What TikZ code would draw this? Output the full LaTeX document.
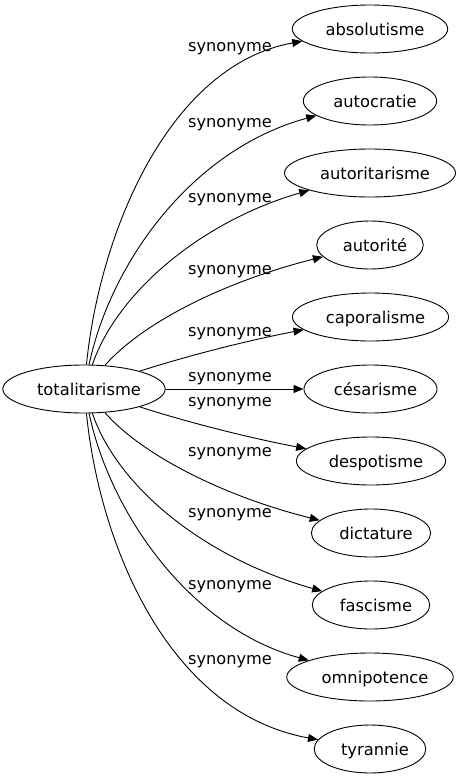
\documentclass[tikz,border=0pt]{standalone}
\usepackage{fontspec}
\setmainfont{DejaVu Sans}
\usetikzlibrary{shapes.geometric,arrows.meta}
\tikzset{
  ord/.style={ellipse,draw,line width=0.9pt,inner xsep=5.5pt,minimum height=48pt,
    text height=13pt,text depth=1pt,font=\fontsize{16.3}{19}\selectfont,
    execute at begin node={\kern5pt},execute at end node={\kern-5pt}},
  kant/.style={line width=0.9pt,-{Triangle[length=10pt,width=8pt]}},
  etiket/.style={anchor=base,inner sep=0pt,font=\fontsize{16.2}{19}\selectfont},
}
\begin{document}
\begin{tikzpicture}[x=1pt,y=-1pt]
  %ramme
  	\useasboundingbox (0,0) rectangle (459,779);
  %knuder
  	\node[ord] (tot) at (84,389) {totalitarisme};
  	\node[ord] (abs) at (370,29) {absolutisme};
  	\node[ord] (auc) at (370,101) {autocratie};
  	\node[ord] (aut) at (370,173) {autoritarisme};
  	\node[ord] (ato) at (370,245) {autorité};
  	\node[ord] (cap) at (370.5,317) {caporalisme};
  	\node[ord] (ces) at (370.5,389) {césarisme};
  	\node[ord] (des) at (371,461) {despotisme};
  	\node[ord] (dic) at (371,533) {dictature};
  	\node[ord] (fas) at (371,605) {fascisme};
  	\node[ord] (omn) at (370,677) {omnipotence};
  	\node[ord] (tyr) at (370,749) {tyrannie};

  %kanter opad
  	\draw[kant] (tot) .. controls (100,230) and (170,65) .. (abs);
  	\draw[kant] (tot) .. controls (110,265) and (190,150) .. (auc);
  	\draw[kant] (tot) .. controls (118,290) and (205,220) .. (aut);
  	\draw[kant] (tot) .. controls (145,320) and (230,280) .. (ato);
  	\draw[kant] (tot) .. controls (190,355) and (250,340) .. (cap);
  %kant vandret
  	\draw[kant] (tot) -- (ces);
  %kanter nedad
  	\draw[kant] (tot) .. controls (190,423) and (250,438) .. (des);
  	\draw[kant] (tot) .. controls (145,458) and (230,498) .. (dic);
  	\draw[kant] (tot) .. controls (118,488) and (205,558) .. (fas);
  	\draw[kant] (tot) .. controls (110,513) and (190,628) .. (omn);
  	\draw[kant] (tot) .. controls (100,548) and (170,713) .. (tyr);

  %etiketter
  	\node[etiket] (e1) at (230,51) {synonyme};
  	\node[etiket] (e2) at (230,127) {synonyme};
  	\node[etiket] (e3) at (230,202) {synonyme};
  	\node[etiket] (e4) at (230,274) {synonyme};
  	\node[etiket] (e5) at (230,336) {synonyme};
  	\node[etiket] (e6) at (230,381) {synonyme};
  	\node[etiket] (e7) at (230,406) {synonyme};
  	\node[etiket] (e8) at (230,456) {synonyme};
  	\node[etiket] (e9) at (230,517) {synonyme};
  	\node[etiket] (e10) at (230,589) {synonyme};
  	\node[etiket] (e11) at (230,664) {synonyme};
\end{tikzpicture}
\end{document}
